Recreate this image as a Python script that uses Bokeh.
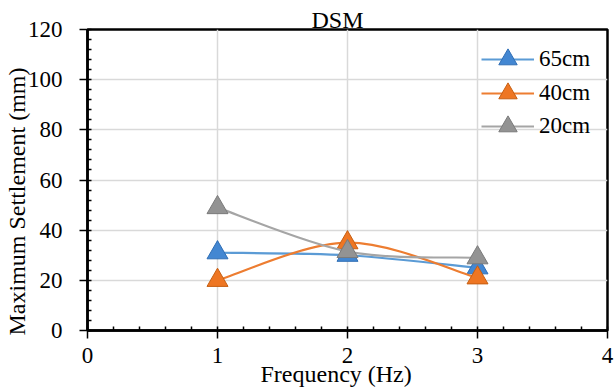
from bokeh.plotting import figure
from bokeh.models import Legend, LegendItem, Title, SingleIntervalTicker
from bokeh.embed import file_html
from bokeh.resources import INLINE

# ---- data ----
freq = [1, 2, 3]
series_labels = ["65cm", "40cm", "20cm"]
s65 = [31, 30, 25]
s40 = [20, 35, 21]
s20 = [49, 31.5, 29]

title_text = "DSM"
x_title = "Frequency (Hz)"
y_title = "Maximum Settlement (mm)"

FONT = "Liberation Serif"
FS = "23px"
TFS = "24px"

line_colors = ["#5B9BD5", "#ED7D31", "#A5A5A5"]
fill_colors = ["#4387D2", "#EE7623", "#939393"]
edge_colors = ["#2F6EB5", "#C65F12", "#7A7A7A"]

p = figure(width=615, height=391, x_range=(0, 4), y_range=(0, 120),
           output_backend="svg", toolbar_location=None, title=None,
           min_border_left=87, min_border_right=8, min_border_top=29,
           min_border_bottom=61, background_fill_color="white",
           border_fill_color="white")

# axes
p.xaxis.ticker = SingleIntervalTicker(interval=1, num_minor_ticks=5)
p.yaxis.ticker = SingleIntervalTicker(interval=20, num_minor_ticks=5)
for ax in (p.xaxis[0], p.yaxis[0]):
    ax.axis_line_color = "black"
    ax.axis_line_width = 2.5
    ax.major_tick_line_color = "black"
    ax.major_tick_line_width = 1.5
    ax.minor_tick_line_color = "black"
    ax.minor_tick_line_width = 1.5
    ax.major_tick_out = 8
    ax.major_tick_in = 0
    ax.minor_tick_in = 4
    ax.minor_tick_out = 0
    ax.major_label_text_font = FONT
    ax.major_label_text_font_size = FS
    ax.major_label_text_color = "black"
p.yaxis.major_label_standoff = 17
p.xaxis.major_label_standoff = 9

p.xgrid.grid_line_color = "#D9D9D9"
p.ygrid.grid_line_color = "#D9D9D9"
p.xgrid.grid_line_width = 1.5
p.ygrid.grid_line_width = 1.5
p.outline_line_color = "black"
p.outline_line_width = 2.5
p.outline_line_alpha = 1


def smooth_segments(xs, ys):
    n = len(xs)
    seg = dict(x0=[], y0=[], x1=[], y1=[], cx0=[], cy0=[], cx1=[], cy1=[])
    for i in range(n - 1):
        pm = i - 1 if i > 0 else i
        pp = i + 2 if i + 2 < n else i + 1
        seg["x0"].append(xs[i]); seg["y0"].append(ys[i])
        seg["x1"].append(xs[i + 1]); seg["y1"].append(ys[i + 1])
        seg["cx0"].append(xs[i] + (xs[i + 1] - xs[pm]) / 6)
        seg["cy0"].append(ys[i] + (ys[i + 1] - ys[pm]) / 6)
        seg["cx1"].append(xs[i + 1] - (xs[pp] - xs[i]) / 6)
        seg["cy1"].append(ys[i + 1] - (ys[pp] - ys[i]) / 6)
    return seg


# one legend per entry so entries can sit closer than the big marker box
legend_bottoms = [248, 214, 181]
for vals, lab, lc, fc, ec, vy in zip([s65, s40, s20], series_labels, line_colors,
                                     fill_colors, edge_colors, legend_bottoms):
    seg = smooth_segments(freq, vals)
    br = p.bezier(line_color=lc, line_width=2.2, **seg)
    sr = p.scatter(freq, vals, marker="triangle", size=21, fill_color=fc,
                   line_color=ec, line_width=1)
    lg = Legend(items=[LegendItem(label=lab, renderers=[br, sr])],
                location=(394, vy), orientation="vertical",
                glyph_width=53, glyph_height=46, label_height=20, spacing=0,
                padding=0, margin=0, label_standoff=5,
                label_text_font=FONT, label_text_font_size=FS,
                label_text_color="black",
                background_fill_alpha=0, border_line_alpha=0)
    p.add_layout(lg, "center")

# titles in side panels (not clipped by the frame)
p.add_layout(Title(text=title_text, align="left", offset=224, standoff=-6,
                   vertical_align="bottom", text_font=FONT, text_font_size=TFS,
                   text_font_style="normal", text_color="black"), "above")
p.add_layout(Title(text=x_title, align="left", offset=173, standoff=-10,
                   vertical_align="top", text_font=FONT, text_font_size=TFS,
                   text_font_style="normal", text_color="black"), "below")
p.add_layout(Title(text=y_title, align="left", offset=-5, standoff=-10,
                   vertical_align="bottom", text_font=FONT, text_font_size=TFS,
                   text_font_style="normal", text_color="black"), "left")

open("out.html", "w").write(file_html(p, INLINE))
